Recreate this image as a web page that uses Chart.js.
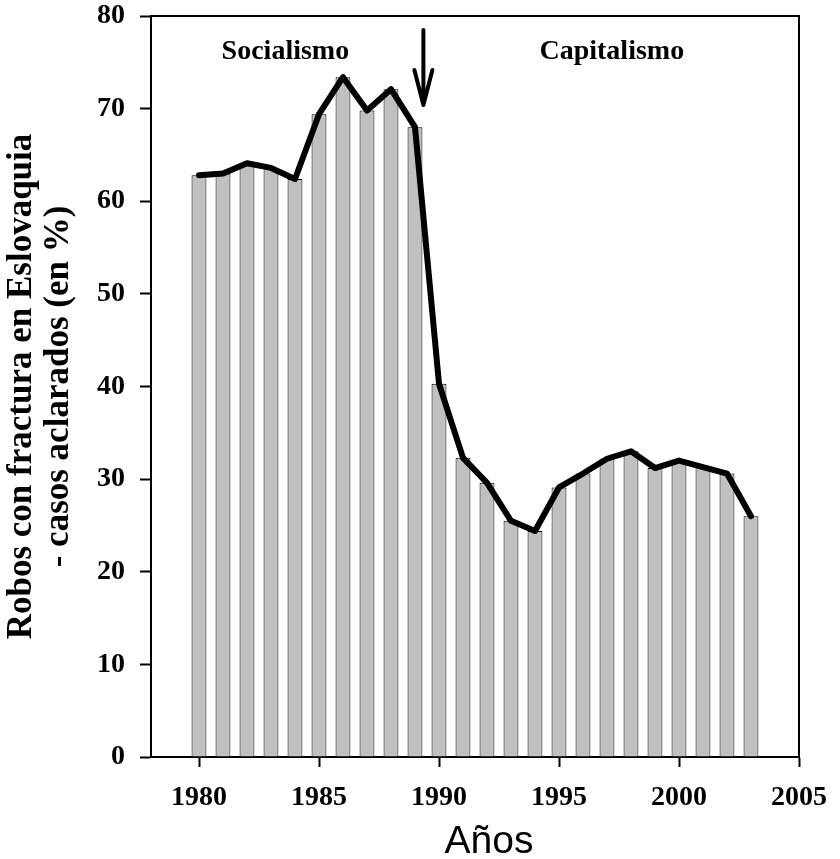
<!DOCTYPE html>
<html>
<head>
<meta charset="utf-8">
<script src="https://cdn.jsdelivr.net/npm/chart.js@4.4.0/dist/chart.umd.min.js"></script>
<style>
  body { margin: 0; background: #fff; }
  #wrap { width: 840px; height: 859px; }
</style>
</head>
<body>
<div id="wrap"><canvas id="myChart" width="840" height="859"></canvas></div>
<script>
// data
const years = [1980, 1981, 1982, 1983, 1984, 1985, 1986, 1987, 1988, 1989,
  1990, 1991, 1992, 1993, 1994, 1995, 1996, 1997, 1998, 1999,
  2000, 2001, 2002, 2003];
const cleared = [62.8, 63.0, 64.1, 63.6, 62.4, 69.4, 73.4, 69.8, 72.1, 68.0,
  40.3, 32.3, 29.6, 25.5, 24.4, 29.1, 30.6, 32.2, 33.0, 31.2,
  32.0, 31.3, 30.6, 26.0];
const xTicks = [1980, 1985, 1990, 1995, 2000, 2005];
const periodNames = ['Socialismo', 'Capitalismo'];
const periodX = [1983.6, 1997.2];
const periodY = 75.4;
const arrowX = 1989.35;
const arrowFrom = 78.5;
const arrowTo = 70.4;

const serif = "'Liberation Serif', 'Times New Roman', serif";
const points = years.map((yr, i) => ({x: yr, y: cleared[i]}));

// frame on top/right, period labels, the 1989 arrow and the x title
const extras = {
  id: 'extras',
  afterDraw(chart) {
    const {ctx, chartArea: a, scales: {x, y}} = chart;
    ctx.save();
    ctx.strokeStyle = '#000';
    ctx.lineWidth = 2;
    ctx.beginPath();
    ctx.moveTo(a.left, a.top);
    ctx.lineTo(a.right, a.top);
    ctx.lineTo(a.right, a.bottom);
    ctx.stroke();

    ctx.fillStyle = '#000';
    ctx.font = 'bold 28px ' + serif;
    ctx.textAlign = 'center';
    ctx.textBaseline = 'alphabetic';
    periodNames.forEach((t, i) => {
      ctx.fillText(t, x.getPixelForValue(periodX[i]), y.getPixelForValue(periodY));
    });

    // arrow
    const ax = x.getPixelForValue(arrowX);
    const y0 = y.getPixelForValue(arrowFrom);
    const y1 = y.getPixelForValue(arrowTo);
    ctx.lineWidth = 4;
    ctx.lineCap = 'round';
    ctx.lineJoin = 'round';
    ctx.beginPath();
    ctx.moveTo(ax, y0);
    ctx.lineTo(ax, y1);
    ctx.moveTo(ax - 9, y1 - 35);
    ctx.lineTo(ax, y1);
    ctx.lineTo(ax + 9, y1 - 35);
    ctx.stroke();

    ctx.font = "39px 'Liberation Sans', Arial, sans-serif";
    ctx.textAlign = 'center';
    ctx.fillText('Años', (a.left + a.right) / 2 + 14, 853);
    ctx.restore();
  }
};

const ctx = document.getElementById('myChart');
const config = {
  type: 'bar',
  data: {
    datasets: [
      {
        type: 'line',
        data: points,
        borderColor: '#000',
        borderWidth: 6,
        pointRadius: 0,
        tension: 0,
        borderJoinStyle: 'round',
        borderCapStyle: 'round',
        order: 0,
      },
      {
        type: 'bar',
        data: points,
        backgroundColor: '#c0c0c0',
        borderColor: '#000',
        borderWidth: 1,
        barPercentage: 0.62,
        categoryPercentage: 1,
        order: 1,
      },
    ],
  },
  options: {
    responsive: false,
    animation: false,
    layout: { padding: { top: 16, right: 41, left: 0, bottom: 0 } },
    plugins: {
      legend: { display: false },
      tooltip: { enabled: false },
    },
    scales: {
      x: {
        type: 'linear',
        min: 1978,
        max: 2005,
        offset: false,
        afterBuildTicks: (scale) => { scale.ticks = xTicks.map(v => ({value: v})); },
        afterFit: (scale) => {
          scale.height = 102;
          scale.paddingLeft = 0;
          scale.paddingRight = 0;
        },
        grid: { offset: false, drawOnChartArea: false, drawTicks: true, tickLength: 10, tickColor: '#000', tickWidth: 2 },
        border: { display: true, color: '#000', width: 2 },
        ticks: {
          color: '#000',
          padding: 14,
          maxRotation: 0,
          callback: (v) => String(v),
          font: { family: serif, size: 28, weight: 'bold' },
        },
      },
      y: {
        min: 0,
        max: 80,
        afterFit: (scale) => {
          scale.width = 151;
          scale.paddingTop = 0;
          scale.paddingBottom = 0;
        },
        grid: { drawOnChartArea: false, drawTicks: true, tickLength: 11, tickColor: '#000', tickWidth: 2 },
        border: { display: true, color: '#000', width: 2 },
        ticks: {
          stepSize: 10,
          color: '#000',
          padding: 15,
          font: { family: serif, size: 28, weight: 'bold', lineHeight: 1 },
        },
        title: {
          display: true,
          text: ['Robos con fractura en Eslovaquia', '- casos aclarados (en %)'],
          color: '#000',
          font: { family: serif, size: 35, weight: 'bold', lineHeight: 1.06 },
          padding: { top: 3, bottom: 0 },
        },
      },
    },
  },
  plugins: [extras],
};

const myChart = new Chart(ctx, config);
</script>
</body>
</html>
